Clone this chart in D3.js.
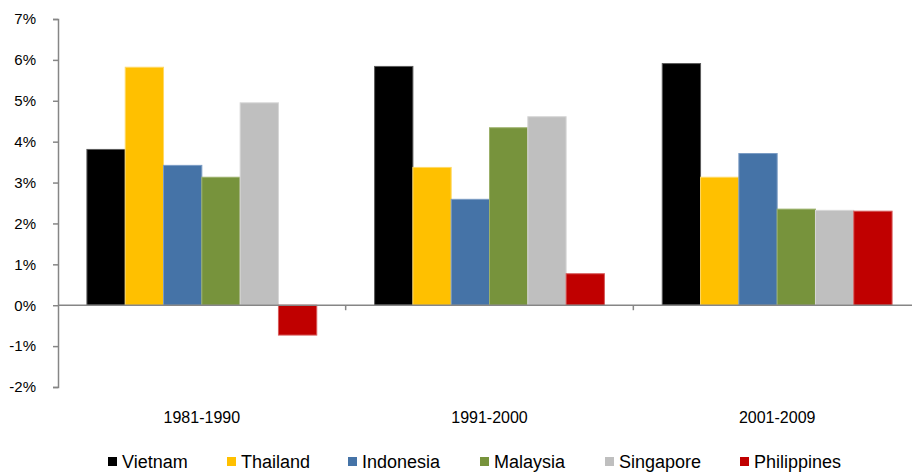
<!DOCTYPE html>
<html>
<head>
<meta charset="utf-8">
<script src="https://cdn.jsdelivr.net/npm/d3@7"></script>
<style>
  body { margin: 0; background: #fff; }
  svg { display: block; font-family: "Liberation Sans", Arial, sans-serif; }
</style>
</head>
<body>
<div id="chart"></div>
<script>
const periods = ["1981-1990", "1991-2000", "2001-2009"];
const countries = ["Vietnam", "Thailand", "Indonesia", "Malaysia", "Singapore", "Philippines"];
const colors = ["#000000", "#FFC000", "#4573A7", "#77933C", "#BFBFBF", "#C00000"];
const strokes = ["#5a5a5a", "#FFD966", "#7B9CC4", "#9BB06A", "#D6D6D6", "#D65A5A"];
// growth in %, one array per country, in period order
const vietnam = [3.81, 5.84, 5.91];
const thailand = [5.82, 3.37, 3.13];
const indonesia = [3.42, 2.59, 3.71];
const malaysia = [3.13, 4.34, 2.35];
const singapore = [4.95, 4.61, 2.32];
const philippines = [-0.73, 0.77, 2.30];
const series = [vietnam, thailand, indonesia, malaysia, singapore, philippines];
const yTicks = [-2, -1, 0, 1, 2, 3, 4, 5, 6, 7];

const w = 912, h = 473;
const axisColor = "#868686";

const svg = d3.select("#chart")
  .append("svg")
  .attr("width", w)
  .attr("height", h);

const x0 = d3.scaleBand().domain(periods).range([58, 921]).paddingInner(0).paddingOuter(0);
const x1 = d3.scaleBand().domain(countries).range([0, x0.bandwidth()]).paddingInner(0).paddingOuter(0.755);
const y = d3.scaleLinear().domain([-2, 7]).range([387, 19]);

// bars
const groups = svg.append("g")
  .selectAll("g")
  .data(periods)
  .join("g")
  .attr("transform", d => `translate(${x0(d)},0)`);

groups.selectAll("rect")
  .data((p, i) => countries.map((c, k) => ({ c, k, v: series[k][i] })))
  .join("rect")
  .attr("x", d => x1(d.c))
  .attr("width", x1.bandwidth())
  .attr("y", d => y(Math.max(0, d.v)))
  .attr("height", d => Math.abs(y(d.v) - y(0)))
  .attr("fill", d => colors[d.k])
  .attr("stroke", d => strokes[d.k])
  .attr("stroke-width", 1);

// y axis
const yAxis = svg.append("g")
  .attr("transform", "translate(58,0)")
  .call(d3.axisLeft(y).tickValues(yTicks).tickSize(5).tickPadding(17).tickFormat(d => d + "%"));
yAxis.select(".domain").attr("stroke", axisColor).attr("stroke-width", 1.5);
yAxis.selectAll(".tick line").attr("stroke", axisColor).attr("stroke-width", 1.5);
yAxis.selectAll(".tick text")
  .attr("fill", "#000")
  .style("font-size", "15px")
  .style("font-family", "Liberation Sans, Arial, sans-serif");

// x axis along zero
const xAxis = svg.append("g")
  .attr("transform", `translate(0,${y(0)})`);
xAxis.append("line")
  .attr("x1", 58).attr("x2", w)
  .attr("stroke", axisColor).attr("stroke-width", 1.5);
xAxis.selectAll("line.sep")
  .data(periods)
  .join("line")
  .attr("class", "sep")
  .attr("x1", d => x0(d) + x0.bandwidth())
  .attr("x2", d => x0(d) + x0.bandwidth())
  .attr("y1", 0).attr("y2", 5)
  .attr("stroke", axisColor).attr("stroke-width", 1.5);

// category labels
svg.append("g")
  .selectAll("text")
  .data(periods)
  .join("text")
  .attr("x", d => x0(d) + x0.bandwidth() / 2)
  .attr("y", 423)
  .attr("text-anchor", "middle")
  .style("font-size", "16px")
  .text(d => d);

// legend
const legendX = [108, 227, 348, 480, 605, 740];
const legend = svg.append("g")
  .selectAll("g")
  .data(countries)
  .join("g")
  .attr("transform", (d, i) => `translate(${legendX[i]},0)`);
legend.append("rect")
  .attr("x", 0).attr("y", 457)
  .attr("width", 9).attr("height", 9)
  .attr("fill", (d, i) => colors[i]);
legend.append("text")
  .attr("x", 14).attr("y", 468)
  .style("font-size", "18px")
  .text(d => d);
</script>
</body>
</html>
